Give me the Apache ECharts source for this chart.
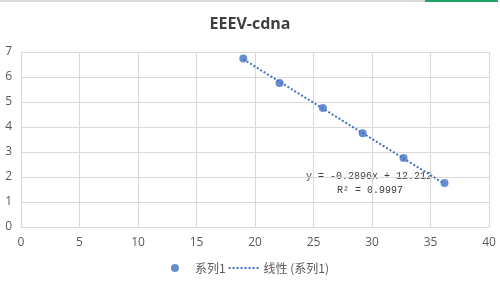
<!DOCTYPE html>
<html>
<head>
<meta charset="utf-8">
<script src="https://cdn.jsdelivr.net/npm/echarts@6/dist/echarts.min.js"></script>
<style>
  html, body { margin: 0; padding: 0; background: #fff; }
  #chart { width: 500px; height: 287px; }
</style>
</head>
<body>
<div id="chart"></div>
<script>
// data
var xValues = [19.0, 22.1, 25.8, 29.2, 32.7, 36.2];
var yValues = [6.74, 5.76, 4.76, 3.75, 2.76, 1.76];
var trendSlope = -0.2896;
var trendIntercept = 12.212;
var trendR2 = 0.9997;
var seriesName = '系列1';
var trendName = '线性 (系列1)';

var points = xValues.map(function (x, i) { return [x, yValues[i]]; });
var xMin = Math.min.apply(null, xValues), xMax = Math.max.apply(null, xValues);
var trendLine = [
  [xMin, trendSlope * xMin + trendIntercept],
  [xMax, trendSlope * xMax + trendIntercept]
];

var chart = echarts.init(document.getElementById('chart'));
var labelColor = '#595959';

var option = {
  animation: false,
  title: {
    text: 'EEEV-cdna',
    left: 'center',
    top: 11,
    textStyle: { color: '#404040', fontSize: 16, fontWeight: 'bold', fontFamily: 'Open Sans' }
  },
  graphic: [
    { type: 'rect', left: 0, top: 0, shape: { width: 425, height: 2 }, style: { fill: '#d9d9d9' } },
    { type: 'rect', left: 425, top: 0, shape: { width: 73, height: 2 }, style: { fill: '#21a366' } },
    {
      type: 'text', left: 306, top: 171,
      style: { text: 'y = -0.2896x + 12.212', font: '10px "Liberation Mono"', fill: '#404040' }
    },
    {
      type: 'text', left: 337, top: 185,
      style: { text: 'R² = ' + trendR2, font: '10px "Liberation Mono"', fill: '#404040' }
    }
  ],
  legend: {
    bottom: 8,
    left: 'center',
    itemGap: 2,
    itemWidth: 30,
    itemHeight: 8,
    textStyle: { color: labelColor, fontSize: 12, fontFamily: 'Noto Sans CJK SC' },
    data: [
      { name: seriesName, icon: 'circle' },
      { name: trendName, itemStyle: { opacity: 0 } }
    ]
  },
  grid: { left: 21, right: 11, top: 52, bottom: 60 },
  xAxis: {
    type: 'value',
    min: 0, max: 40, interval: 5,
    axisLine: { show: true, lineStyle: { color: '#d9d9d9' } },
    axisTick: { show: false },
    axisLabel: { color: labelColor, fontSize: 12, margin: 10, fontFamily: 'Open Sans' },
    splitLine: { lineStyle: { color: '#d9d9d9' } }
  },
  yAxis: {
    type: 'value',
    min: 0, max: 7, interval: 1,
    axisLine: { show: true, lineStyle: { color: '#d9d9d9' } },
    axisTick: { show: false },
    axisLabel: { color: labelColor, fontSize: 12, margin: 9, fontFamily: 'Open Sans' },
    splitLine: { lineStyle: { color: '#d9d9d9' } }
  },
  series: [
    {
      name: trendName,
      type: 'line',
      data: trendLine,
      symbol: 'none',
      lineStyle: { color: '#4472c4', width: 2, type: [2, 2] },
      itemStyle: { color: '#4472c4' },
      z: 1
    },
    {
      name: seriesName,
      type: 'scatter',
      data: points,
      symbolSize: 8,
      itemStyle: { color: '#4472c4' },
      z: 2
    }
  ]
};
chart.setOption(option);
</script>
</body>
</html>
